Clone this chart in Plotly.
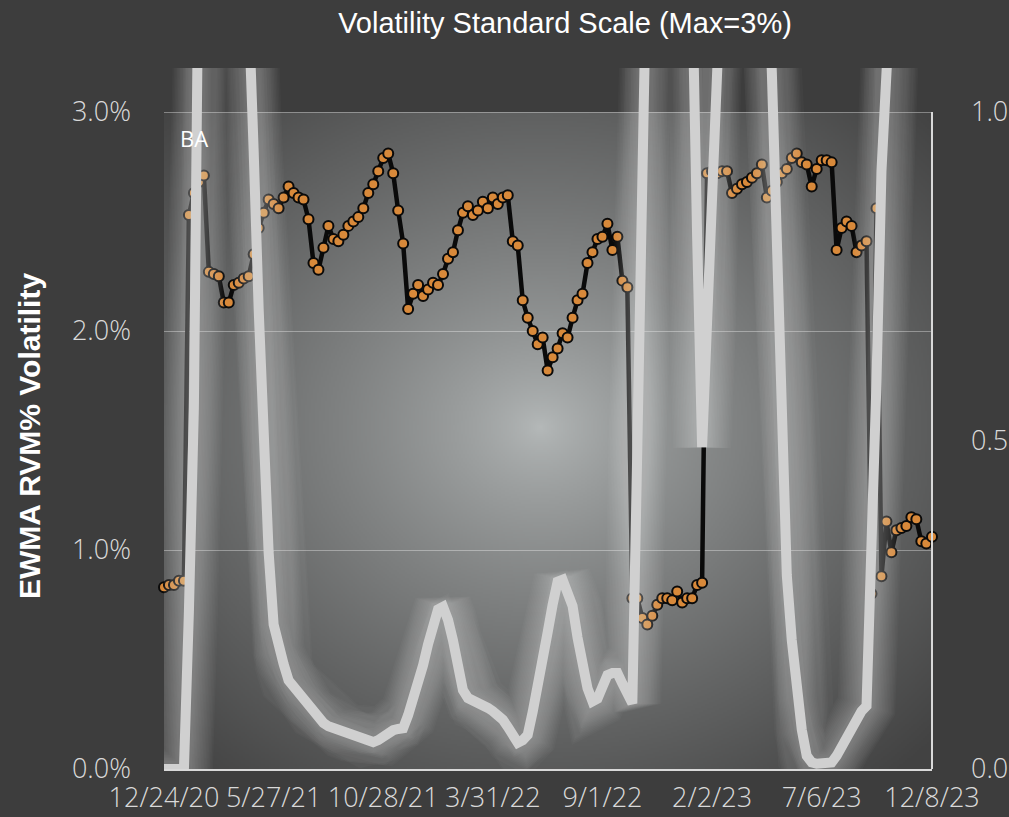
import base64, struct, zlib
import numpy as np
import pandas as pd
import plotly.graph_objects as go

# ---------------- data ----------------
dates = list(pd.date_range("2020-12-24", periods=154, freq="7D")) + [pd.Timestamp("2023-12-08")]
tick_labels = ["12/24/20", "5/27/21", "10/28/21", "3/31/22", "9/1/22", "2/2/23", "7/6/23", "12/8/23"]
tick_dates = dates[::22]

# EWMA RVM% volatility (left axis, %)
ewma_vol = [
    0.83, 0.84, 0.84, 0.86, 0.86, 2.53, 2.63, 2.68, 2.71, 2.27,
    2.26, 2.25, 2.13, 2.13, 2.21, 2.22, 2.24, 2.25, 2.35, 2.47,
    2.54, 2.60, 2.58, 2.56, 2.61, 2.66, 2.63, 2.61, 2.60, 2.51,
    2.31, 2.28, 2.38, 2.48, 2.42, 2.41, 2.44, 2.48, 2.50, 2.52,
    2.56, 2.63, 2.67, 2.73, 2.79, 2.81, 2.72, 2.55, 2.40, 2.10,
    2.17, 2.21, 2.16, 2.19, 2.22, 2.21, 2.26, 2.33, 2.36, 2.46,
    2.54, 2.57, 2.53, 2.55, 2.59, 2.56, 2.61, 2.58, 2.61, 2.62,
    2.41, 2.39, 2.14, 2.06, 2.00, 1.94, 1.97, 1.82, 1.88, 1.92,
    1.99, 1.97, 2.06, 2.14, 2.17, 2.31, 2.36, 2.42, 2.43, 2.49,
    2.37, 2.43, 2.23, 2.20, 0.78, 0.78, 0.69, 0.66, 0.70, 0.75,
    0.78, 0.78, 0.77, 0.81, 0.76, 0.78, 0.78, 0.84, 0.85, 2.72,
    2.73, 2.72, 2.73, 2.73, 2.63, 2.65, 2.67, 2.68, 2.70, 2.72,
    2.76, 2.61, 2.64, 2.68, 2.72, 2.74, 2.79, 2.81, 2.77, 2.76,
    2.66, 2.74, 2.78, 2.78, 2.77, 2.37, 2.47, 2.50, 2.48, 2.36,
    2.39, 2.41, 0.80, 2.56, 0.88, 1.13, 0.99, 1.09, 1.10, 1.11,
    1.15, 1.14, 1.04, 1.03, 1.06,
]

# standard-scale series (right axis, 0-1)
std_scale = [
    0.0, 0.0, 0.0, 0.0, 0.0, 0.24, 0.55, 1.30, 1.60, 1.90,
    2.10, 2.20, 2.00, 1.90, 1.80, 1.60, 1.40, 1.15, 0.94, 0.70,
    0.47, 0.33, 0.22, 0.18, 0.16, 0.135, 0.125, 0.117, 0.108, 0.096,
    0.085, 0.078, 0.070, 0.065, 0.062, 0.059, 0.058, 0.055, 0.052, 0.047,
    0.043, 0.040, 0.041, 0.044, 0.050, 0.056, 0.059, 0.061, 0.062, 0.082,
    0.105, 0.130, 0.158, 0.190, 0.220, 0.243, 0.247, 0.227, 0.196, 0.150,
    0.120, 0.108, 0.105, 0.100, 0.096, 0.093, 0.088, 0.082, 0.075, 0.064,
    0.052, 0.040, 0.044, 0.052, 0.087, 0.123, 0.166, 0.208, 0.250, 0.285,
    0.288, 0.270, 0.248, 0.200, 0.158, 0.123, 0.103, 0.107, 0.125, 0.143,
    0.146, 0.146, 0.130, 0.116, 0.100, 0.49, 0.89, 1.40, 1.70, 1.90,
    2.00, 2.10, 2.00, 1.80, 1.60, 1.40, 1.20, 0.81, 0.49, 0.68,
    1.04, 1.30, 1.60, 1.80, 1.90, 2.00, 2.00, 1.90, 1.70, 1.50,
    1.30, 1.25, 1.06, 0.81, 0.54, 0.295, 0.196, 0.108, 0.060, 0.020,
    0.010, 0.008, 0.008, 0.008, 0.010, 0.020, 0.035, 0.050, 0.062, 0.075,
    0.088, 0.096, 0.32, 0.59, 0.91, 1.30, 1.50, 1.70, 1.80, 1.90,
    2.00, 2.00, 2.10, 2.10, 2.20,
]

# ---------------- styling ----------------
PAPER = "#3d3d3d"
ORANGE = "#d8893a"
LINEGRAY = "#d0d0d0"
TICKFONT = dict(family="Open Sans, Lato, sans-serif", size=27, color="#d9d9d9", weight=300)

W, H = 1009, 817
L, R, T, B = 164, 77, 68, 48          # plot area 164..932 x 68..769
PLOT_TOP_VIS = 112                      # where the 3.0% gridline / gradient starts
plot_h = H - T - B
plot_w = W - L - R
y_left_max = 3.0 * plot_h / (769 - PLOT_TOP_VIS)
y_right_max = 1.0 * plot_h / (769 - PLOT_TOP_VIS)


def radial_png(w, h):
    xs = (np.arange(w) + 0.5) / w
    ys = (np.arange(h) + 0.5) / h
    X, Y = np.meshgrid(xs, ys)
    d = np.sqrt(((X - 0.49) / 0.5) ** 2 + ((Y - 0.48) / 0.5) ** 2)
    s = np.clip(d / 1.41, 0, 1) ** 0.76
    c0 = np.array([182, 186, 186], float)
    c1 = np.array([66, 66, 66], float)
    img = c0[None, None, :] * (1 - s[..., None]) + c1[None, None, :] * s[..., None]
    img = img.astype(np.uint8)
    raw = b"".join(b"\x00" + img[r].tobytes() for r in range(h))

    def chunk(tag, data):
        return struct.pack(">I", len(data)) + tag + data + struct.pack(">I", zlib.crc32(tag + data) & 0xFFFFFFFF)

    png = (b"\x89PNG\r\n\x1a\n" + chunk(b"IHDR", struct.pack(">IIBBBBB", w, h, 8, 2, 0, 0, 0))
           + chunk(b"IDAT", zlib.compress(raw, 9)) + chunk(b"IEND", b""))
    return "data:image/png;base64," + base64.b64encode(png).decode()


fig = go.Figure()

fig.add_trace(go.Scatter(
    x=dates, y=ewma_vol, mode="lines+markers", name="BA",
    line=dict(color="#0a0a0a", width=4.5),
    marker=dict(size=10, color=ORANGE, line=dict(color="#0a0a0a", width=2)),
    yaxis="y", showlegend=False, cliponaxis=False,
))

# soft glow layers for the light line
for wdt in range(58, 13, -3):
    fig.add_trace(go.Scatter(
        x=dates, y=std_scale, mode="lines", yaxis="y2",
        line=dict(color="white", width=wdt), opacity=0.02,
        showlegend=False, hoverinfo="skip",
    ))
fig.add_trace(go.Scatter(
    x=dates, y=std_scale, mode="lines", yaxis="y2", name="Scale",
    line=dict(color=LINEGRAY, width=10), showlegend=False,
))

vis_frac = (769 - PLOT_TOP_VIS) / plot_h
fig.add_layout_image(dict(
    source=radial_png(384, 328), xref="paper", yref="paper",
    x=0, y=vis_frac, sizex=1, sizey=vis_frac, xanchor="left", yanchor="top",
    sizing="stretch", layer="below",
))

fig.update_layout(
    width=W, height=H,
    margin=dict(l=L, r=R, t=T, b=B, autoexpand=False),
    paper_bgcolor=PAPER, plot_bgcolor=PAPER,
    title=dict(text="Volatility Standard Scale (Max=3%)", x=565 / W, xref="container",
               xanchor="center", y=1 - 23 / H, yanchor="middle", automargin=False,
               font=dict(family="Liberation Sans, Arial, sans-serif", size=29, color="white")),
    xaxis=dict(
        type="date", range=[dates[0], dates[-1]], automargin=False,
        tickvals=tick_dates, ticktext=tick_labels, tickfont=TICKFONT,
        showgrid=False, zeroline=False, showline=True, linecolor="#d9d9d9", linewidth=2,
        ticks="", ticklabelstandoff=4,
    ),
    yaxis=dict(
        range=[0, y_left_max], tickvals=[0, 1, 2, 3], automargin=False,
        ticktext=["0.0%", "1.0%", "2.0%", "3.0%"], tickfont=TICKFONT,
        showgrid=True, gridcolor="rgba(255,255,255,0.35)", gridwidth=1,
        zeroline=False, showline=False, ticks="", ticklabelstandoff=32,
    ),
    yaxis2=dict(
        range=[0, y_right_max], overlaying="y", side="right", automargin=False,
        tickvals=[0, 0.5, 1.0], ticktext=["0.0", "0.5", "1.0"], tickfont=TICKFONT,
        showgrid=False, zeroline=False, showline=False, ticks="", ticklabelstandoff=38,
    ),
    shapes=[dict(type="line", xref="paper", x0=1, x1=1, yref="y2", y0=0, y1=1.0,
                 line=dict(color="#d9d9d9", width=2), layer="above")],
    annotations=[
        dict(text="BA", xref="paper", yref="paper", x=(178 - L) / plot_w,
             y=(769 - 138) / plot_h, xanchor="left", yanchor="middle", showarrow=False,
             font=dict(family="Open Sans, sans-serif", size=22, color="white")),
        dict(text="<b>EWMA RVM% Volatility</b>", xref="paper", yref="paper",
             x=(29 - L) / plot_w, y=(769 - 436) / plot_h, textangle=-90,
             xanchor="center", yanchor="middle", showarrow=False,
             font=dict(family="Liberation Sans, Arial, sans-serif", size=30, color="white")),
    ],
)

fig.write_html(
    "out.html",
    config={"displayModeBar": False},
    post_script="document.body.style.margin='0';document.body.style.background='#3d3d3d';",
)
